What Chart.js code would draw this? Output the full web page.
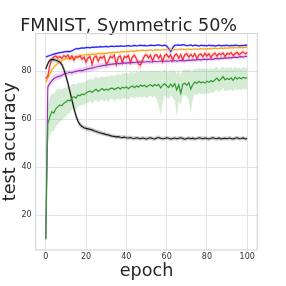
<!DOCTYPE html>
<html>
<head>
<meta charset="utf-8">
<script src="https://cdn.jsdelivr.net/npm/chart.js@4"></script>
<style>
  body { margin: 0; background: #fff; }
  canvas { display: block; }
</style>
</head>
<body>
<canvas id="myChart" width="286" height="286"></canvas>
<script>
// Test accuracy per epoch (mean and spread)
var xTicks = [0, 20, 40, 60, 80, 100];
var yTicks = [20, 40, 60, 80];

var blueAcc = [86.0, 86.3, 86.6, 86.9, 87.2, 87.4, 87.6, 87.8, 87.9, 88.1, 88.2,
  88.3, 88.2, 88.6, 89.0, 89.5, 89.4, 89.6, 89.8, 89.7, 89.9,
  90.0, 89.8, 90.1, 90.0, 90.2, 90.1, 90.3, 90.2, 90.3, 90.4,
  90.2, 90.4, 90.5, 90.3, 90.5, 90.4, 90.6, 90.5, 90.4, 90.6,
  90.7, 90.5, 90.6, 90.8, 90.6, 90.7, 90.9, 90.7, 90.8, 90.6,
  90.7, 90.9, 90.8, 90.7, 90.9, 91.0, 90.8, 90.7, 90.9, 90.6,
  89.5, 88.2, 89.8, 90.8, 90.9, 91.0, 90.8, 91.1, 90.9, 90.7,
  90.8, 91.0, 90.6, 90.9, 90.8, 90.5, 90.9, 90.7, 90.8, 90.6,
  90.9, 90.7, 90.8, 90.5, 90.7, 90.9, 90.6, 90.8, 90.7, 90.9,
  90.6, 90.8, 90.7, 90.9, 90.8, 90.6, 90.8, 90.7, 90.9, 90.8];
var blueStd = [0.6, 0.6, 0.5, 0.5, 0.5, 0.5, 0.5, 0.5, 0.5, 0.5, 0.5,
  0.5, 0.6, 0.5, 0.5, 0.6, 0.5, 0.5, 0.5, 0.4, 0.5,
  0.4, 0.5, 0.4, 0.5, 0.4, 0.4, 0.5, 0.4, 0.4, 0.5,
  0.4, 0.4, 0.5, 0.4, 0.4, 0.5, 0.4, 0.4, 0.4, 0.5,
  0.4, 0.4, 0.4, 0.5, 0.4, 0.4, 0.4, 0.4, 0.5, 0.4,
  0.4, 0.4, 0.5, 0.4, 0.4, 0.4, 0.4, 0.5, 0.4, 0.6,
  1.2, 1.6, 1.0, 0.5, 0.4, 0.4, 0.4, 0.5, 0.4, 0.4,
  0.4, 0.4, 0.5, 0.4, 0.4, 0.4, 0.4, 0.4, 0.4, 0.4,
  0.4, 0.4, 0.4, 0.4, 0.4, 0.4, 0.4, 0.4, 0.4, 0.4,
  0.4, 0.4, 0.4, 0.4, 0.4, 0.4, 0.4, 0.4, 0.4, 0.4];

var orangeAcc = [75.5, 77.0, 79.0, 80.5, 81.8, 82.6, 83.3, 84.0, 84.5, 85.0, 85.3,
  85.4, 85.3, 85.5, 85.6, 85.9, 86.2, 86.5, 86.7, 86.8, 86.9,
  87.0, 87.0, 87.2, 87.1, 87.3, 87.4, 87.5, 87.4, 87.6, 87.5,
  87.7, 87.8, 87.7, 87.9, 88.0, 87.9, 88.1, 88.2, 88.1, 88.3,
  88.2, 88.4, 88.5, 88.3, 88.6, 88.5, 88.7, 88.8, 88.6, 88.7,
  88.8, 88.9, 88.7, 88.9, 89.0, 88.9, 88.8, 89.0, 89.1, 88.9,
  89.0, 89.1, 88.9, 89.2, 89.0, 89.1, 89.3, 89.2, 89.0, 89.2,
  89.3, 89.1, 89.2, 89.4, 89.2, 89.3, 89.5, 89.3, 89.4, 89.5,
  89.4, 89.6, 89.5, 89.7, 89.5, 89.6, 89.8, 89.6, 89.7, 89.8,
  89.7, 89.9, 89.8, 90.0, 89.8, 89.9, 90.0, 89.8, 90.1, 89.9];
var orangeStd = [1.2, 1.2, 1.1, 1.0, 1.0, 0.9, 0.9, 0.8, 0.8, 0.8, 0.8,
  0.7, 0.7, 0.7, 0.8, 0.7, 0.6, 0.7, 0.6, 0.6, 0.6,
  0.6, 0.7, 0.6, 0.6, 0.6, 0.5, 0.6, 0.6, 0.5, 0.6,
  0.5, 0.6, 0.6, 0.5, 0.5, 0.6, 0.5, 0.5, 0.6, 0.5,
  0.5, 0.5, 0.6, 0.5, 0.5, 0.5, 0.5, 0.6, 0.5, 0.5,
  0.5, 0.5, 0.5, 0.6, 0.5, 0.5, 0.5, 0.5, 0.5, 0.5,
  0.5, 0.5, 0.6, 0.5, 0.5, 0.5, 0.5, 0.5, 0.6, 0.5,
  0.5, 0.5, 0.5, 0.5, 0.5, 0.5, 0.5, 0.5, 0.5, 0.5,
  0.5, 0.5, 0.5, 0.5, 0.5, 0.5, 0.5, 0.5, 0.5, 0.5,
  0.5, 0.5, 0.5, 0.5, 0.5, 0.5, 0.5, 0.5, 0.5, 0.5];

var redAcc = [77.0, 78.0, 82.5, 84.8, 86.0, 86.4, 85.6, 86.2, 85.4, 86.6, 86.0,
  86.8, 85.2, 86.5, 84.6, 86.2, 85.8, 86.4, 85.0, 85.9, 83.8,
  85.6, 86.2, 82.8, 85.8, 86.4, 84.2, 86.0, 85.5, 86.5, 83.0,
  84.0, 86.3, 85.6, 86.8, 82.7, 85.9, 86.4, 83.4, 86.2, 85.8,
  86.6, 83.5, 86.0, 86.7, 85.2, 83.0, 82.6, 84.5, 86.4, 86.9,
  85.6, 86.8, 84.2, 86.5, 87.0, 85.4, 86.8, 84.0, 86.6, 87.1,
  85.8, 86.9, 84.6, 86.7, 87.2, 85.5, 87.0, 84.8, 86.9, 87.3,
  85.9, 87.1, 86.0, 87.4, 85.3, 86.8, 87.2, 86.1, 87.5, 86.4,
  87.3, 85.8, 87.0, 87.6, 86.3, 87.4, 86.9, 87.7, 86.2, 87.5,
  87.1, 87.8, 86.6, 87.4, 87.9, 86.9, 87.6, 88.1, 87.3, 87.8];
var redStd = [1.5, 1.5, 1.4, 1.2, 1.0, 1.0, 1.2, 1.0, 1.3, 1.0, 1.2,
  1.0, 1.4, 1.1, 1.5, 1.1, 1.2, 1.0, 1.4, 1.2, 1.8,
  1.2, 1.0, 2.0, 1.2, 1.0, 1.6, 1.1, 1.2, 1.0, 2.0,
  1.6, 1.0, 1.2, 1.0, 2.0, 1.2, 1.0, 1.8, 1.1, 1.2,
  1.0, 1.8, 1.1, 1.0, 1.3, 2.0, 2.0, 1.5, 1.1, 1.0,
  1.2, 1.0, 1.5, 1.1, 1.0, 1.3, 1.0, 1.6, 1.1, 1.0,
  1.2, 1.0, 1.5, 1.1, 1.0, 1.3, 1.0, 1.5, 1.0, 1.0,
  1.2, 1.0, 1.2, 1.0, 1.3, 1.0, 1.0, 1.2, 1.0, 1.2,
  1.0, 1.3, 1.0, 1.0, 1.2, 1.0, 1.1, 1.0, 1.2, 1.0,
  1.1, 1.0, 1.2, 1.0, 1.0, 1.1, 1.0, 1.0, 1.1, 1.0];

var purpleAcc = [10.0, 73.5, 75.0, 76.0, 77.0, 77.4, 77.8, 78.0, 78.4, 78.9, 79.2,
  79.3, 79.6, 79.4, 79.8, 80.0, 80.2, 80.4, 80.3, 80.6, 80.8,
  81.0, 81.2, 81.3, 81.6, 81.8, 82.0, 82.2, 82.4, 82.5, 82.6,
  82.8, 82.9, 83.0, 83.1, 83.2, 83.3, 83.2, 83.4, 83.5, 83.4,
  83.6, 83.5, 83.7, 83.6, 83.8, 83.9, 83.8, 84.0, 83.9, 84.0,
  84.1, 83.9, 84.0, 84.2, 84.0, 84.1, 84.3, 84.1, 84.2, 84.3,
  84.2, 84.4, 84.3, 84.5, 84.3, 84.4, 84.6, 84.5, 84.4, 84.6,
  84.7, 84.6, 84.8, 84.7, 84.9, 85.0, 84.8, 85.0, 85.1, 84.9,
  85.1, 85.2, 85.0, 85.3, 85.4, 85.2, 85.5, 85.4, 85.6, 85.5,
  85.7, 85.6, 85.8, 85.9, 85.7, 86.0, 86.1, 85.9, 86.2, 86.3];
var purpleStd = [0.5, 1.6, 1.6, 1.5, 1.5, 1.4, 1.4, 1.3, 1.3, 1.2, 1.2,
  1.2, 1.1, 1.2, 1.1, 1.2, 1.1, 1.2, 1.3, 1.2, 1.3,
  1.3, 1.4, 1.3, 1.4, 1.3, 1.2, 1.3, 1.2, 1.1, 1.2,
  1.1, 1.0, 1.1, 1.0, 1.0, 1.1, 1.0, 1.0, 0.9, 1.0,
  0.9, 1.0, 0.9, 1.0, 0.9, 0.9, 1.0, 0.9, 0.9, 0.9,
  0.9, 1.0, 0.9, 0.9, 0.9, 0.9, 0.9, 1.0, 0.9, 0.9,
  0.9, 0.9, 0.9, 1.0, 0.9, 0.9, 0.9, 0.9, 1.0, 0.9,
  0.9, 0.9, 0.9, 0.9, 0.9, 0.9, 0.9, 0.9, 0.9, 0.9,
  0.8, 0.9, 0.8, 0.9, 0.8, 0.8, 0.9, 0.8, 0.8, 0.8,
  0.8, 0.8, 0.8, 0.8, 0.8, 0.8, 0.8, 0.8, 0.8, 0.8];

var greenAcc = [10.0, 58.0, 61.0, 63.2, 62.6, 64.5, 65.3, 66.0, 65.6, 66.7, 67.2,
  68.0, 67.6, 69.0, 69.4, 68.8, 70.1, 69.8, 70.6, 70.2, 71.0,
  71.5, 71.8, 71.2, 72.0, 72.5, 71.6, 72.2, 72.8, 72.0, 72.6,
  72.1, 72.9, 73.0, 72.4, 72.9, 73.3, 72.6, 73.4, 73.0, 73.6,
  72.8, 73.5, 73.9, 73.2, 74.0, 73.4, 74.3, 73.8, 74.2, 73.5,
  74.1, 74.4, 73.7, 74.5, 74.0, 74.6, 73.1, 74.2, 74.8, 74.0,
  73.2, 74.7, 73.6, 74.9, 72.2, 74.4, 70.8, 74.6, 75.0, 74.2,
  75.3, 72.6, 74.5, 75.5, 74.9, 75.8, 75.2, 75.6, 75.1, 75.9,
  75.4, 76.2, 75.7, 76.5, 77.2, 76.0, 76.8, 77.8, 76.4, 77.0,
  76.6, 77.3, 76.2, 77.6, 76.8, 77.4, 76.9, 77.5, 77.2, 77.3];
var greenLo = [9.0, 50.0, 53.0, 55.0, 55.0, 57.0, 58.0, 59.0, 59.5, 60.5, 61.0,
  62.5, 62.5, 64.0, 64.5, 64.0, 65.5, 65.5, 66.0, 66.0, 66.8,
  67.0, 67.5, 66.5, 67.5, 68.0, 67.0, 67.8, 68.2, 67.5, 68.0,
  67.2, 68.5, 68.6, 67.5, 68.4, 68.8, 67.8, 69.0, 68.5, 69.0,
  68.0, 69.0, 69.4, 68.5, 69.5, 68.8, 69.6, 69.0, 69.5, 68.8,
  69.4, 69.8, 69.0, 69.8, 68.5, 66.0, 61.8, 67.0, 70.0, 69.2,
  68.4, 70.0, 68.8, 68.0, 61.0, 67.5, 66.0, 69.8, 70.2, 69.4,
  68.0, 62.6, 68.5, 70.5, 70.0, 71.0, 70.4, 70.8, 70.2, 71.0,
  70.5, 71.4, 70.8, 71.8, 72.4, 71.2, 72.0, 73.0, 71.6, 72.2,
  71.8, 72.5, 71.4, 72.8, 72.0, 72.6, 72.0, 72.8, 72.4, 72.5];
var greenHi = [11.0, 66.0, 69.0, 71.0, 70.5, 72.0, 72.5, 72.8, 72.5, 73.0, 73.2,
  73.8, 73.5, 74.5, 74.8, 74.5, 75.2, 75.0, 75.5, 75.2, 76.0,
  76.5, 77.0, 76.5, 77.2, 77.8, 77.0, 77.5, 78.0, 77.5, 78.0,
  77.8, 78.2, 78.5, 78.0, 78.6, 79.0, 78.4, 79.2, 79.0, 79.4,
  78.8, 79.5, 79.8, 79.2, 80.0, 79.5, 80.2, 79.8, 80.2, 79.6,
  80.0, 80.3, 79.8, 80.4, 80.0, 80.5, 79.5, 80.2, 80.6, 80.0,
  79.4, 80.6, 79.8, 80.8, 79.0, 80.4, 78.5, 80.6, 81.0, 80.2,
  81.0, 79.8, 80.5, 81.2, 80.8, 81.5, 81.0, 81.4, 81.0, 81.2,
  80.8, 81.4, 81.0, 81.6, 82.0, 80.8, 81.4, 82.0, 81.2, 81.6,
  81.2, 81.8, 80.8, 82.0, 81.2, 81.6, 81.2, 81.8, 81.4, 81.5];

var blackAcc = [81.0, 83.2, 84.6, 85.0, 84.9, 84.6, 84.3, 83.8, 82.8, 80.8, 78.0,
  75.0, 71.5, 68.0, 64.5, 61.5, 59.2, 57.8, 57.0, 56.5, 56.2,
  56.0, 55.8, 55.6, 55.2, 54.9, 54.6, 54.4, 54.1, 53.9, 53.6,
  53.5, 53.2, 53.0, 52.9, 52.7, 52.8, 52.5, 52.4, 52.6, 52.3,
  52.2, 52.4, 52.1, 52.0, 52.3, 52.1, 51.9, 52.2, 52.0, 51.8,
  52.1, 52.3, 52.0, 51.8, 52.2, 52.4, 52.1, 51.9, 52.0, 52.3,
  52.1, 51.8, 52.0, 52.2, 51.9, 52.1, 52.3, 52.0, 51.7, 52.0,
  52.2, 51.9, 52.1, 51.8, 52.0, 52.3, 52.1, 51.9, 52.2, 52.0,
  51.8, 52.1, 52.3, 52.0, 51.9, 52.2, 51.8, 52.0, 52.1, 51.9,
  52.2, 52.0, 51.8, 52.1, 52.3, 51.9, 52.0, 52.2, 51.8, 52.0];
var blackStd = [1.0, 1.0, 0.9, 0.9, 0.9, 0.9, 1.0, 1.0, 1.2, 1.4, 1.6,
  1.8, 1.8, 1.8, 1.7, 1.5, 1.3, 1.2, 1.1, 1.0, 1.0,
  1.0, 0.9, 1.0, 0.9, 0.9, 0.9, 0.9, 0.9, 0.8, 0.9,
  0.8, 0.9, 0.8, 0.8, 0.9, 0.8, 0.8, 0.8, 0.9, 0.8,
  0.8, 0.8, 0.8, 0.9, 0.8, 0.8, 0.8, 0.8, 0.8, 0.9,
  0.8, 0.8, 0.8, 0.8, 0.9, 0.8, 0.8, 0.8, 0.8, 0.8,
  0.8, 0.9, 0.8, 0.8, 0.8, 0.8, 0.8, 0.9, 0.8, 0.8,
  0.8, 0.8, 0.8, 0.8, 0.8, 0.8, 0.9, 0.8, 0.8, 0.8,
  0.8, 0.8, 0.8, 0.8, 0.8, 0.8, 0.8, 0.8, 0.8, 0.8,
  0.8, 0.8, 0.8, 0.8, 0.8, 0.8, 0.8, 0.8, 0.8, 0.8];

var font = 'DejaVu Sans';
var textColor = '#262626';

function pts(values) {
    return values.map(function (v, i) { return { x: i, y: v }; });
}

function withStd(mean, std, sign) {
    return mean.map(function (v, i) { return v + sign * std[i]; });
}

// one mean line plus a shaded band (lower, upper) per method
function series(mean, lo, hi, line, shade) {
    return [
        { data: pts(mean), borderColor: line, borderWidth: 1.2, fill: false },
        { data: pts(lo), borderColor: 'rgba(0,0,0,0)', borderWidth: 0, fill: false },
        { data: pts(hi), borderColor: 'rgba(0,0,0,0)', borderWidth: 0, fill: '-1', backgroundColor: shade }
    ];
}

// the first dataset ends up on top
var datasets = [].concat(
    series(greenAcc, greenLo, greenHi, '#2e9a2e', 'rgba(60,170,60,0.22)'),
    series(blackAcc, withStd(blackAcc, blackStd, -1), withStd(blackAcc, blackStd, 1), '#1a1a1a', 'rgba(0,0,0,0.2)'),
    series(purpleAcc, withStd(purpleAcc, purpleStd, -1), withStd(purpleAcc, purpleStd, 1), '#9b30b5', 'rgba(160,60,190,0.2)'),
    series(redAcc, withStd(redAcc, redStd, -1), withStd(redAcc, redStd, 1), '#ff2a2a', 'rgba(255,60,60,0.2)'),
    series(orangeAcc, withStd(orangeAcc, orangeStd, -1), withStd(orangeAcc, orangeStd, 1), '#ffa51a', 'rgba(255,170,30,0.2)'),
    series(blueAcc, withStd(blueAcc, blueStd, -1), withStd(blueAcc, blueStd, 1), '#2424ff', 'rgba(50,50,255,0.2)')
);

// light frame round the plot, like the seaborn whitegrid style
var frame = {
    id: 'frame',
    beforeDatasetsDraw: function (chart) {
        var c = chart.ctx, a = chart.chartArea;
        c.save();
        c.strokeStyle = '#cfcfcf';
        c.lineWidth = 1;
        c.strokeRect(a.left, a.top, a.right - a.left, a.bottom - a.top);
        c.restore();
    }
};

var ctx = document.getElementById('myChart').getContext('2d');
var myChart = new Chart(ctx, {
    type: 'line',
    data: { datasets: datasets },
    plugins: [frame],
    options: {
        responsive: false,
        animation: false,
        layout: { padding: { left: 0, right: 28.7, top: 0, bottom: 0 } },
        elements: { point: { radius: 0 }, line: { tension: 0 } },
        plugins: {
            legend: { display: false },
            tooltip: { enabled: false },
            filler: { drawTime: 'beforeDatasetsDraw' },
            title: {
                display: true,
                text: 'FMNIST, Symmetric 50%',
                color: textColor,
                font: { family: font, size: 17.6, weight: 'normal', lineHeight: 0.8 },
                padding: { top: 19.2, bottom: 0.4 }
            }
        },
        scales: {
            x: {
                type: 'linear',
                min: -5,
                max: 105,
                afterBuildTicks: function (s) { s.ticks = xTicks.map(function (v) { return { value: v }; }); },
                afterFit: function (s) { s.height = 36; },
                grid: { color: '#e3e3e3', drawTicks: false },
                border: { display: false },
                ticks: { padding: 2.5, color: '#333', font: { family: font, size: 8 } },
                title: {
                    display: true,
                    text: 'epoch',
                    color: textColor,
                    font: { family: font, size: 17.6 },
                    padding: { top: 0, bottom: 4.5 }
                }
            },
            y: {
                min: 5.5,
                max: 95.7,
                afterBuildTicks: function (s) { s.ticks = yTicks.map(function (v) { return { value: v }; }); },
                afterFit: function (s) { s.width = 35.7; },
                grid: { color: '#e3e3e3', drawTicks: false },
                border: { display: false },
                ticks: { padding: 4, color: '#333', font: { family: font, size: 8 } },
                title: {
                    display: true,
                    text: 'test accuracy',
                    color: textColor,
                    font: { family: font, size: 17.6 },
                    padding: { top: 0, bottom: 0 }
                }
            }
        }
    }
});
</script>
</body>
</html>
